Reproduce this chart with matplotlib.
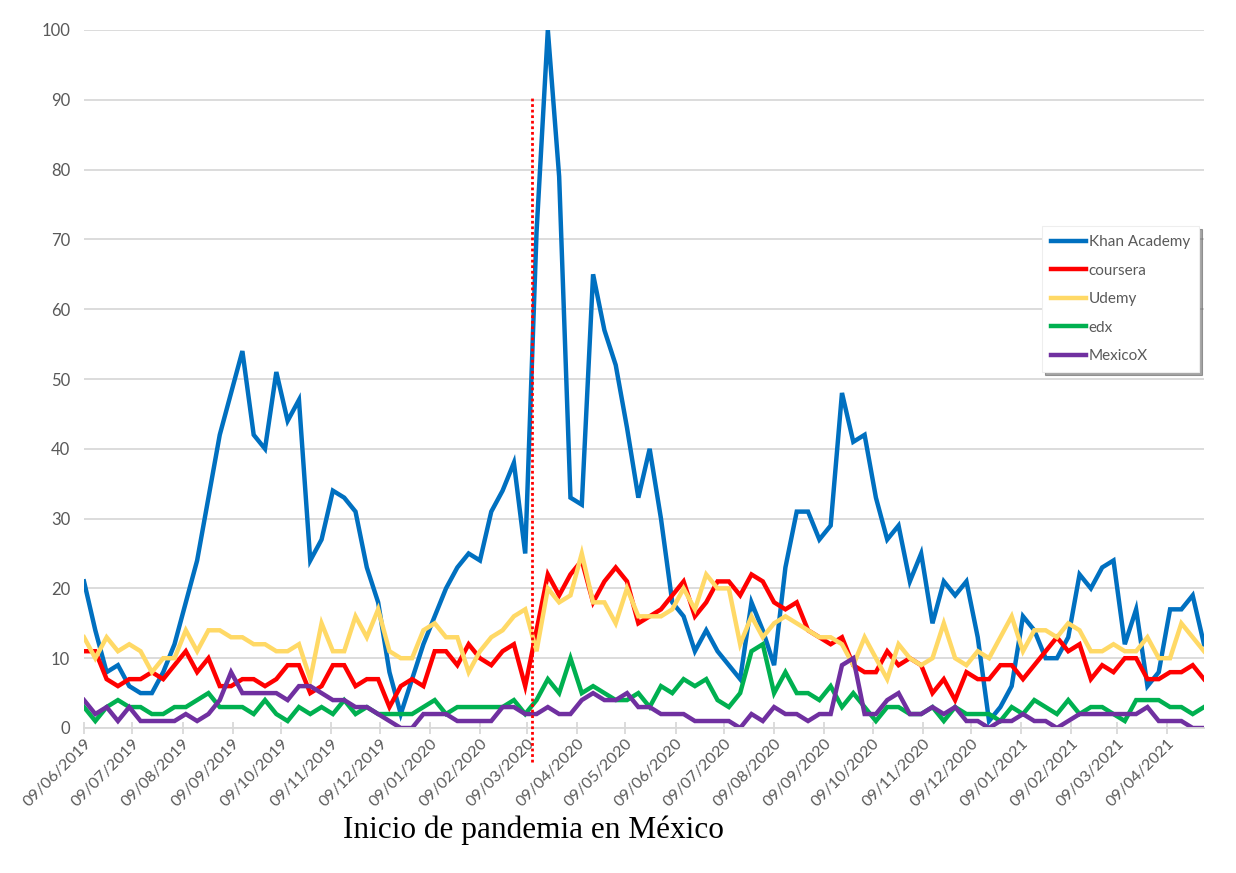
import pandas as pd
import matplotlib
matplotlib.use('Agg')
import matplotlib.pyplot as plt
import matplotlib.dates as mdates

# weekly interest, Google-Trends style (0-100), weeks starting 09/06/2019
start_date = '2019-06-09'
n_weeks = 100
pandemic_date = '2020-03-12'

khan = [21, 14, 8, 9, 6, 5, 5, 8, 12, 18, 24, 33, 42, 48, 54, 42, 40, 51, 44, 47,
        24, 27, 34, 33, 31, 23, 18, 8, 2, 7, 12, 16, 20, 23, 25, 24, 31, 34, 38, 25,
        71, 100, 79, 33, 32, 65, 57, 52, 43, 33, 40, 30, 18, 16, 11, 14, 11, 9, 7, 18,
        14, 9, 23, 31, 31, 27, 29, 48, 41, 42, 33, 27, 29, 21, 25, 15, 21, 19, 21, 13,
        1, 3, 6, 16, 14, 10, 10, 13, 22, 20, 23, 24, 12, 17, 6, 8, 17, 17, 19, 12]
coursera = [11, 11, 7, 6, 7, 7, 8, 7, 9, 11, 8, 10, 6, 6, 7, 7, 6, 7, 9, 9,
            5, 6, 9, 9, 6, 7, 7, 3, 6, 7, 6, 11, 11, 9, 12, 10, 9, 11, 12, 6,
            14, 22, 19, 22, 24, 18, 21, 23, 21, 15, 16, 17, 19, 21, 16, 18, 21, 21, 19, 22,
            21, 18, 17, 18, 14, 13, 12, 13, 9, 8, 8, 11, 9, 10, 9, 5, 7, 4, 8, 7,
            7, 9, 9, 7, 9, 11, 13, 11, 12, 7, 9, 8, 10, 10, 7, 7, 8, 8, 9, 7]
udemy = [13, 10, 13, 11, 12, 11, 8, 10, 10, 14, 11, 14, 14, 13, 13, 12, 12, 11, 11, 12,
         7, 15, 11, 11, 16, 13, 17, 11, 10, 10, 14, 15, 13, 13, 8, 11, 13, 14, 16, 17,
         11, 20, 18, 19, 25, 18, 18, 15, 20, 16, 16, 16, 17, 20, 17, 22, 20, 20, 12, 16,
         13, 15, 16, 15, 14, 13, 13, 12, 9, 13, 10, 7, 12, 10, 9, 10, 15, 10, 9, 11,
         10, 13, 16, 11, 14, 14, 13, 15, 14, 11, 11, 12, 11, 11, 13, 10, 10, 15, 13, 11]
edx = [3, 1, 3, 4, 3, 3, 2, 2, 3, 3, 4, 5, 3, 3, 3, 2, 4, 2, 1, 3,
       2, 3, 2, 4, 2, 3, 2, 2, 2, 2, 3, 4, 2, 3, 3, 3, 3, 3, 4, 2,
       4, 7, 5, 10, 5, 6, 5, 4, 4, 5, 3, 6, 5, 7, 6, 7, 4, 3, 5, 11,
       12, 5, 8, 5, 5, 4, 6, 3, 5, 3, 1, 3, 3, 2, 2, 3, 1, 3, 2, 2,
       2, 1, 3, 2, 4, 3, 2, 4, 2, 3, 3, 2, 1, 4, 4, 4, 3, 3, 2, 3]
mexicox = [4, 2, 3, 1, 3, 1, 1, 1, 1, 2, 1, 2, 4, 8, 5, 5, 5, 5, 4, 6,
           6, 5, 4, 4, 3, 3, 2, 1, 0, 0, 2, 2, 2, 1, 1, 1, 1, 3, 3, 2,
           2, 3, 2, 2, 4, 5, 4, 4, 5, 3, 3, 2, 2, 2, 1, 1, 1, 1, 0, 2,
           1, 3, 2, 2, 1, 2, 2, 9, 10, 2, 2, 4, 5, 2, 2, 3, 2, 3, 1, 1,
           0, 1, 1, 2, 1, 1, 0, 1, 2, 2, 2, 2, 2, 2, 3, 1, 1, 1, 0, 0]

series_names = ['Khan Academy', 'coursera', 'Udemy', 'edx', 'MexicoX']
series_colors = ['#0070C0', '#FF0000', '#FFD966', '#00B050', '#7030A0']

weeks = pd.date_range(start_date, periods=n_weeks, freq='7D')
df = pd.DataFrame({'Khan Academy': khan, 'coursera': coursera, 'Udemy': udemy,
                   'edx': edx, 'MexicoX': mexicox}, index=weeks)

month_ticks = [pd.Timestamp(start_date) + pd.DateOffset(months=k) for k in range(23)]

fig = plt.figure(figsize=(12.36, 8.73), dpi=100)
ax = fig.add_axes([84 / 1236, 1 - 728 / 873, 1120 / 1236, 698 / 873])

for name, color in zip(series_names, series_colors):
  ax.plot(df.index, df[name], color=color, linewidth=3.2, label=name,
          solid_joinstyle='miter')

ax.set_ylim(0, 100)
ax.set_xlim(weeks[0], weeks[-1])
ax.set_yticks(range(0, 101, 10))
ax.yaxis.grid(True, color='#d9d9d9', linewidth=1.3)
ax.set_axisbelow(True)

for side in ['top', 'right', 'left']:
  ax.spines[side].set_visible(False)
ax.spines['bottom'].set_color('#d9d9d9')
ax.spines['bottom'].set_linewidth(1.3)

ax.set_xticks(month_ticks)
ax.xaxis.set_major_formatter(mdates.DateFormatter('%d/%m/%Y'))
ax.tick_params(axis='x', direction='inout', length=8, width=1.3, color='#d9d9d9',
               labelsize=11.5, labelcolor='#595959', pad=2)
ax.tick_params(axis='y', length=0, labelsize=12, labelcolor='#595959', pad=10)
for lbl in ax.get_xticklabels():
  lbl.set_rotation(45)
  lbl.set_ha('right')
  lbl.set_rotation_mode('anchor')
  lbl.set_family('Lato')
for lbl in ax.get_yticklabels():
  lbl.set_family('Lato')

# start of the pandemic marker
pd_x = pd.Timestamp(pandemic_date)
ax.plot([pd_x, pd_x], [-4.9, 90.3], color='#FF0000', linestyle=(0, (1, 1)),
        linewidth=2, clip_on=False, zorder=5)
fig.text(533 / 1236, 1 - 838 / 873, 'Inicio de pandemia en México',
         family='Liberation Serif', fontsize=22.5, ha='center', va='baseline',
         color='black')

leg = ax.legend(loc='upper left', bbox_to_anchor=(1042 / 1236, 1 - 226 / 873),
                bbox_transform=fig.transFigure, frameon=True, shadow=True,
                fancybox=False, handlelength=2.3, handletextpad=0.15,
                labelspacing=0.95, borderpad=0.6, borderaxespad=0,
                prop={'family': 'Lato', 'size': 11})
leg.get_frame().set_edgecolor('#eeeeee')
leg.get_frame().set_linewidth(0.8)
for t in leg.get_texts():
  t.set_color('#595959')

fig.savefig('out.png', dpi=100)
